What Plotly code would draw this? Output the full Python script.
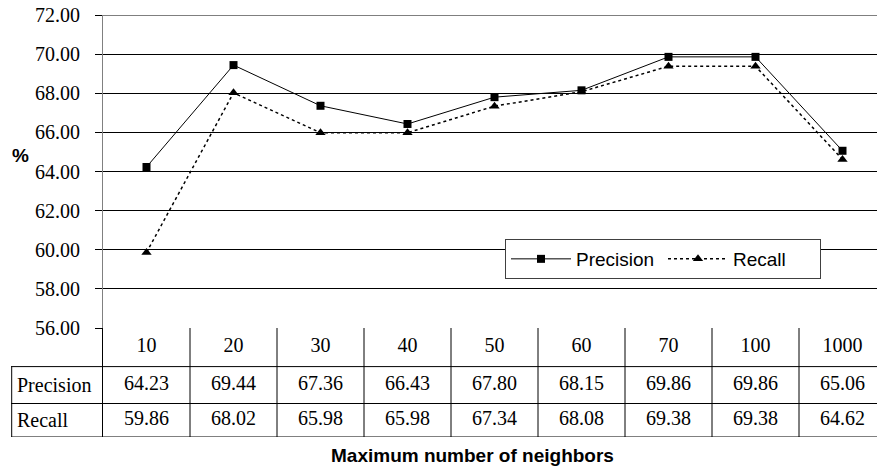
import plotly.graph_objects as go

categories = ["10", "20", "30", "40", "50", "60", "70", "100", "1000"]
precision = [64.23, 69.44, 67.36, 66.43, 67.80, 68.15, 69.86, 69.86, 65.06]
recall = [59.86, 68.02, 65.98, 65.98, 67.34, 68.08, 69.38, 69.38, 64.62]
row_labels = ["Precision", "Recall"]
y_ticks = [56, 58, 60, 62, 64, 66, 68, 70, 72]

OFF = 0  # page body margin removed via post_script
WIN_W, WIN_H = 877, 468
W, H = WIN_W - OFF, WIN_H - OFF
ML, MR, MT, MB = 11 - OFF, 0, 15 - OFF, WIN_H - 437
PW = W - ML - MR
PH = H - MT - MB
plot_left = 103
plot_bottom = 328
col_w = 87.0


def px_x(p):
    return (p - OFF - ML) / PW


def px_y(p):
    return (H - MB - (p - OFF)) / PH


x_dom0 = px_x(plot_left)
y_split = px_y(plot_bottom)
x_range = [-0.5, -0.5 + (WIN_W - plot_left) / col_w]

row_edges = [0, 38.6, 75.5, 109]
row_centers = [(row_edges[i] + row_edges[i + 1]) / 2 for i in range(3)]

serif = "Liberation Serif"
sans = "Liberation Sans"
FS = 20

fig = go.Figure()
fig.add_trace(go.Scatter(
    x=categories, y=precision, name="Precision", mode="lines+markers",
    line=dict(color="black", width=1),
    marker=dict(symbol="square", size=8, color="black"),
    xaxis="x", yaxis="y"))
fig.add_trace(go.Scatter(
    x=categories, y=recall, name="Recall", mode="lines+markers",
    line=dict(color="black", width=1.5, dash="dot"),
    marker=dict(symbol="triangle-up", size=9, color="black"),
    xaxis="x", yaxis="y"))

fig.add_trace(go.Scatter(
    x=categories, y=[row_centers[0]] * len(categories), text=categories,
    mode="text", textfont=dict(family=serif, size=FS, color="black"),
    showlegend=False, hoverinfo="skip", xaxis="x2", yaxis="y2"))
fig.add_trace(go.Scatter(
    x=categories, y=[row_centers[1]] * len(categories),
    text=[f"{v:.2f}" for v in precision], mode="text",
    textfont=dict(family=serif, size=FS, color="black"),
    showlegend=False, hoverinfo="skip", xaxis="x2", yaxis="y2"))
fig.add_trace(go.Scatter(
    x=categories, y=[row_centers[2]] * len(categories),
    text=[f"{v:.2f}" for v in recall], mode="text",
    textfont=dict(family=serif, size=FS, color="black"),
    showlegend=False, hoverinfo="skip", xaxis="x2", yaxis="y2"))

shapes = []
shapes.append(dict(type="line", xref="paper", yref="y", x0=x_dom0, x1=1,
                   y0=y_ticks[-1], y1=y_ticks[-1], line=dict(color="black", width=1),
                   layer="below"))
for e in row_edges[1:]:
    shapes.append(dict(type="line", xref="paper", yref="y2", x0=0, x1=1,
                       y0=e, y1=e, line=dict(color="black", width=1)))
for i in range(len(categories) - 1):
    shapes.append(dict(type="line", xref="x2", yref="y2", x0=i + 0.5, x1=i + 0.5,
                       y0=row_edges[0], y1=row_edges[-1],
                       line=dict(color="black", width=1)))
shapes.append(dict(type="line", xref="paper", yref="y2", x0=0.0008, x1=0.0008,
                   y0=row_edges[1], y1=row_edges[-1], line=dict(color="black", width=1)))

annotations = []
for lbl, rc in zip(row_labels, row_centers[1:]):
    annotations.append(dict(text=lbl, xref="paper", yref="y2", x=px_x(15), y=rc,
                            xanchor="left", yanchor="middle", showarrow=False,
                            font=dict(family=serif, size=FS, color="black")))
annotations.append(dict(text="<b>%</b>", xref="paper", yref="paper",
                        x=px_x(20), y=px_y(156),
                        xanchor="center", yanchor="middle", showarrow=False,
                        font=dict(family=sans, size=19, color="black")))
annotations.append(dict(text="<b>Maximum number of neighbors</b>", xref="paper", yref="paper",
                        x=px_x(472), y=px_y(455),
                        xanchor="center", yanchor="middle", showarrow=False,
                        font=dict(family=sans, size=19, color="black")))

fig.update_layout(
    width=W, height=H,
    margin=dict(l=ML, r=MR, t=MT, b=MB, autoexpand=False),
    paper_bgcolor="white", plot_bgcolor="white",
    showlegend=True,
    legend=dict(orientation="h", x=px_x(505), y=px_y(259),
                xanchor="left", yanchor="middle", bgcolor="white",
                bordercolor="#404040", borderwidth=1,
                itemwidth=60, entrywidth=82, entrywidthmode="pixels",
                font=dict(family=sans, size=19, color="black")),
    xaxis=dict(domain=[x_dom0, 1], type="category", range=x_range,
               showticklabels=False, showgrid=False, zeroline=False, anchor="y",
               fixedrange=True, automargin=False),
    yaxis=dict(domain=[y_split, 1], range=[56, 72.0005], tickvals=y_ticks,
               tickformat=".2f", showgrid=True, gridcolor="black", gridwidth=1,
               showline=True, linecolor="#808080", linewidth=1,
               ticks="outside", ticklen=7, tickcolor="black",
               ticklabelstandoff=11, ticklabeloverflow="allow",
               tickfont=dict(family=serif, size=FS, color="black"),
               zeroline=False, anchor="x", automargin=False),
    xaxis2=dict(domain=[x_dom0, 1], type="category", range=x_range, matches="x",
                showticklabels=False, showgrid=False, zeroline=False, anchor="y2",
                automargin=False),
    yaxis2=dict(domain=[0, y_split], range=[row_edges[-1], row_edges[0]],
                showticklabels=False, showgrid=False, zeroline=False,
                showline=True, linecolor="black", linewidth=1, anchor="x2",
                automargin=False),
    shapes=shapes,
    annotations=annotations,
)

fig.write_html("out.html", config={"displayModeBar": False},
               post_script="document.body.style.margin='0';document.body.style.overflow='hidden';")
